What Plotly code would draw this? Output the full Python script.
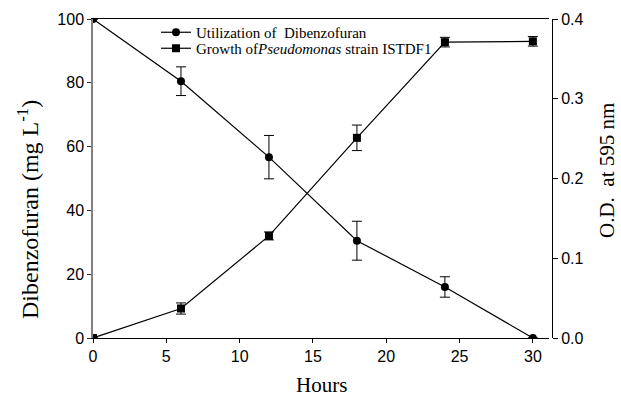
import plotly.graph_objects as go

hours = [0, 6, 12, 18, 24, 30]
dbf = [100, 80.5, 56.7, 30.5, 16.0, 0.0]
dbf_err = [0.0, 4.5, 6.8, 6.1, 3.2, 0.0]
od = [0.0, 0.037, 0.128, 0.251, 0.371, 0.372]
od_err = [0.0, 0.007, 0.005, 0.016, 0.006, 0.006]

x_ticks = [0, 5, 10, 15, 20, 25, 30]
y1_ticks = [0, 20, 40, 60, 80, 100]
y2_ticks = [0.0, 0.1, 0.2, 0.3, 0.4]

SERIF = "Liberation Serif, Times New Roman, serif"
SANS = "Liberation Sans, Arial, sans-serif"

fig = go.Figure()
fig.add_trace(go.Scatter(
    x=hours, y=dbf, mode="lines+markers",
    name="Utilization of  Dibenzofuran",
    line=dict(color="black", width=1.2),
    marker=dict(symbol="circle", size=8, color="black"),
    error_y=dict(type="data", array=dbf_err, color="black", thickness=1, width=5),
    legend="legend",
))
fig.add_trace(go.Scatter(
    x=hours, y=od, mode="lines+markers", yaxis="y2",
    name="Growth of<i>Pseudomonas</i> strain ISTDF1",
    line=dict(color="black", width=1.2),
    marker=dict(symbol="square", size=8, color="black"),
    error_y=dict(type="data", array=od_err, color="black", thickness=1, width=5),
    legend="legend2",
))

W, H = 621, 400
L, R, T, B = 93, 69, 19, 62
pw = W - L - R
ph = H - T - B

def px_x(x):
    return (x - L) / pw

def px_y(y):
    return (H - B - y) / ph

fig.update_layout(
    width=W, height=H,
    margin=dict(l=L, r=R, t=T, b=B, pad=0),
    plot_bgcolor="white", paper_bgcolor="white",
    showlegend=True,
    xaxis=dict(
        domain=[0, 456 / 459], range=[0, 31.1],
        tickvals=x_ticks, ticks="outside", ticklen=4, tickcolor="black",
        showline=True, linecolor="black", linewidth=1, mirror=True,
        showgrid=False, zeroline=False,
        tickfont=dict(family=SANS, size=16, color="black"),
    ),
    yaxis=dict(
        range=[0, 100], tickvals=y1_ticks, ticks="outside", ticklen=4,
        tickcolor="#333", showline=True, linecolor="#808080", linewidth=1.5,
        showgrid=False, zeroline=False,
        tickfont=dict(family=SANS, size=16, color="black"),
    ),
    yaxis2=dict(
        overlaying="y", side="right", anchor="free", position=1,
        range=[0, 0.4], tickvals=y2_ticks, tickformat=".1f",
        ticks="outside", ticklen=5, tickcolor="black",
        showline=True, linecolor="black", linewidth=1,
        showgrid=False, zeroline=False,
        tickfont=dict(family=SANS, size=16, color="black"),
    ),
    legend=dict(
        x=px_x(156), y=px_y(16), xanchor="left", yanchor="top",
        bgcolor="rgba(0,0,0,0)", borderwidth=0,
        font=dict(family=SERIF, size=15, color="black"),
    ),
    legend2=dict(
        x=px_x(156), y=px_y(32), xanchor="left", yanchor="top",
        bgcolor="rgba(0,0,0,0)", borderwidth=0,
        font=dict(family=SERIF, size=15, color="black"),
    ),
    annotations=[
        dict(text="Dibenzofuran (mg L<sup>-1</sup>)", xref="paper", yref="paper",
             x=px_x(28), y=px_y(210), xanchor="center", yanchor="middle",
             textangle=-90, showarrow=False,
             font=dict(family=SERIF, size=24, color="black")),
        dict(text="O.D.  at 595 nm", xref="paper", yref="paper",
             x=px_x(607), y=px_y(171), xanchor="center", yanchor="middle",
             textangle=-90, showarrow=False,
             font=dict(family=SERIF, size=21, color="black")),
        dict(text="Hours", xref="paper", yref="paper",
             x=px_x(321), y=px_y(385), xanchor="center", yanchor="middle",
             showarrow=False,
             font=dict(family=SERIF, size=21, color="black")),
    ],
)

fig.write_html("out.html")
